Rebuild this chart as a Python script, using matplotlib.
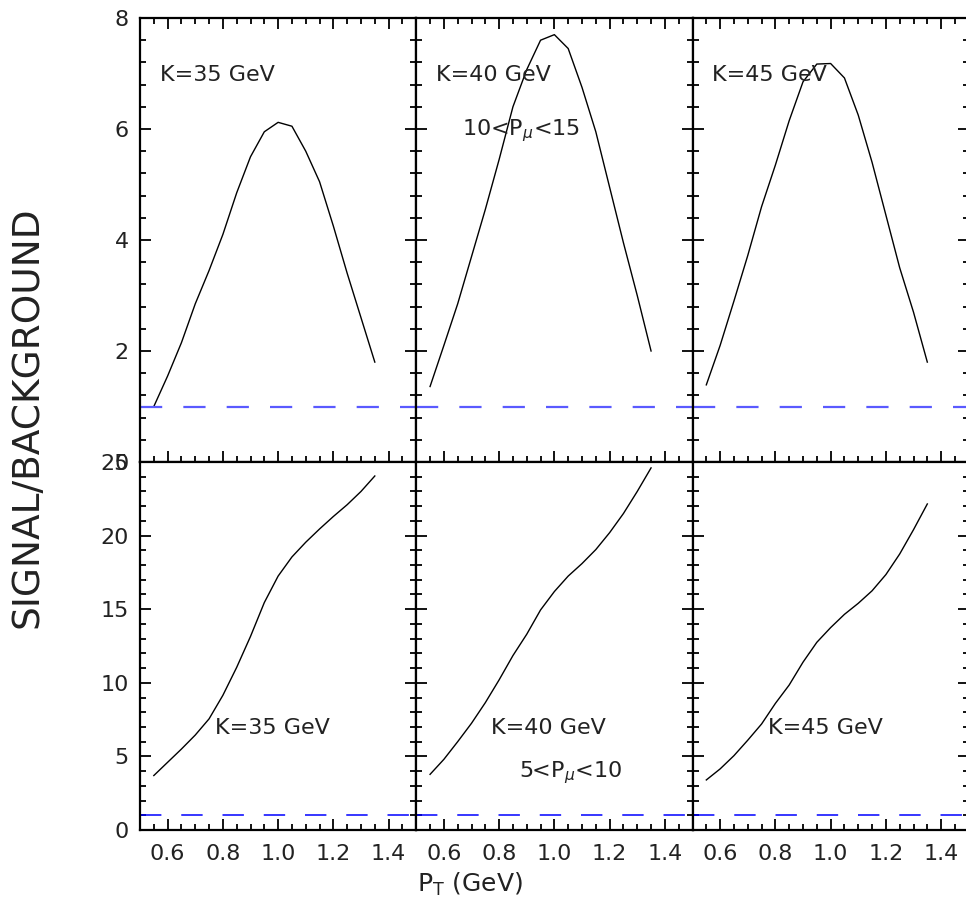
# Signal/background ratio vs P_T, three K values, two P_mu bins.

import numpy as np
import matplotlib.pyplot as plt
from matplotlib.ticker import MultipleLocator

pt = [0.55, 0.60, 0.65, 0.70, 0.75, 0.80, 0.85, 0.90, 0.95,
      1.00, 1.05, 1.10, 1.15, 1.20, 1.25, 1.30, 1.35]

# 10 < P_mu < 15
top_k35 = [1.0, 1.55, 2.15, 2.85, 3.45, 4.1, 4.85, 5.5, 5.95,
           6.12, 6.05, 5.6, 5.05, 4.25, 3.4, 2.6, 1.8]
top_k40 = [1.36, 2.1, 2.85, 3.7, 4.55, 5.45, 6.4, 7.07, 7.6,
           7.7, 7.45, 6.75, 5.95, 4.95, 3.95, 3.0, 2.0]
top_k45 = [1.39, 2.1, 2.9, 3.72, 4.6, 5.35, 6.15, 6.85, 7.17,
           7.18, 6.92, 6.25, 5.4, 4.45, 3.5, 2.7, 1.8]

# 5 < P_mu < 10
bot_k35 = [3.7, 4.6, 5.5, 6.45, 7.55, 9.15, 11.05, 13.15, 15.45,
           17.25, 18.55, 19.55, 20.45, 21.3, 22.1, 23.0, 24.05]
bot_k40 = [3.78, 4.8, 6.0, 7.25, 8.65, 10.2, 11.85, 13.3, 14.95,
           16.2, 17.25, 18.1, 19.05, 20.2, 21.5, 23.0, 24.6]
bot_k45 = [3.4, 4.15, 5.05, 6.1, 7.2, 8.6, 9.85, 11.4, 12.75,
           13.75, 14.65, 15.4, 16.25, 17.35, 18.75, 20.4, 22.15]

k_labels = ['K=35 GeV', 'K=40 GeV', 'K=45 GeV']
top_curves = [top_k35, top_k40, top_k45]
bot_curves = [bot_k35, bot_k40, bot_k45]

txt = '#222222'
fs = 16

fig = plt.figure(figsize=(9.66, 9.07), dpi=100)

W, H = 966.0, 907.0
left = 140 / W
pw = 276.25 / W
top_b, top_h = (H - 462) / H, 444 / H
bot_b, bot_h = (H - 830) / H, 368 / H


def style(ax, ymax, ymaj, ymin, show_x, show_y, top_ticks):
    ax.set_xlim(0.5, 1.5)
    ax.set_ylim(0, ymax)
    ax.xaxis.set_major_locator(MultipleLocator(0.2))
    ax.xaxis.set_minor_locator(MultipleLocator(0.05))
    ax.yaxis.set_major_locator(MultipleLocator(ymaj))
    ax.yaxis.set_minor_locator(MultipleLocator(ymin))
    ax.tick_params(which='both', direction='in', left=True, right=True,
                   bottom=True, top=top_ticks, width=1.3, colors='black',
                   labelcolor=txt, labelsize=fs)
    ax.tick_params(which='major', length=8)
    ax.tick_params(which='minor', length=4)
    ax.tick_params(axis='x', pad=10)
    ax.tick_params(axis='y', pad=8)
    if show_x:
        ax.set_xticks([0.6, 0.8, 1.0, 1.2, 1.4])
        ax.set_xticklabels(['0.6', '0.8', '1.0', '1.2', '1.4'])
    else:
        ax.tick_params(axis='x', labelbottom=False)
    if not show_y:
        ax.tick_params(axis='y', labelleft=False)
    for s in ax.spines.values():
        s.set_linewidth(1.6)


for i in range(3):
    # top row
    ax = fig.add_axes([left + i * pw, top_b, pw, top_h])
    style(ax, 8, 2, 0.4, False, i == 0, True)
    ax.plot(pt, top_curves[i], color='black', lw=1.0)
    ax.axhline(1, color='#5a5aff', lw=1.6, dashes=(10, 9.5))
    ax.text(0.572, 6.97, k_labels[i], fontsize=fs, color=txt, va='center')
    if i == 1:
        ax.text(0.667, 5.98, r'10<P$_{\mu}$<15', fontsize=fs, color=txt,
                va='center')

    # bottom row
    ax = fig.add_axes([left + i * pw, bot_b, pw, bot_h])
    style(ax, 25, 5, 1, True, i == 0, False)
    ax.plot(pt, bot_curves[i], color='black', lw=1.0)
    ax.axhline(1, color='blue', lw=1.1, dashes=(14, 13))
    ax.text(0.772, 6.93, k_labels[i], fontsize=fs, color=txt, va='center')
    if i == 1:
        ax.text(0.873, 3.87, r'5<P$_{\mu}$<10', fontsize=fs, color=txt,
                va='center')

fig.text(28 / W, 1 - 417 / H, 'SIGNAL/BACKGROUND', rotation=90,
         fontsize=27, color=txt, ha='center', va='center')
fig.text(470 / W, 1 - 884 / H, r'P$_\mathrm{T}$ (GeV)', fontsize=18,
         color=txt, ha='center', va='center')

plt.savefig('out.png', dpi=100)
